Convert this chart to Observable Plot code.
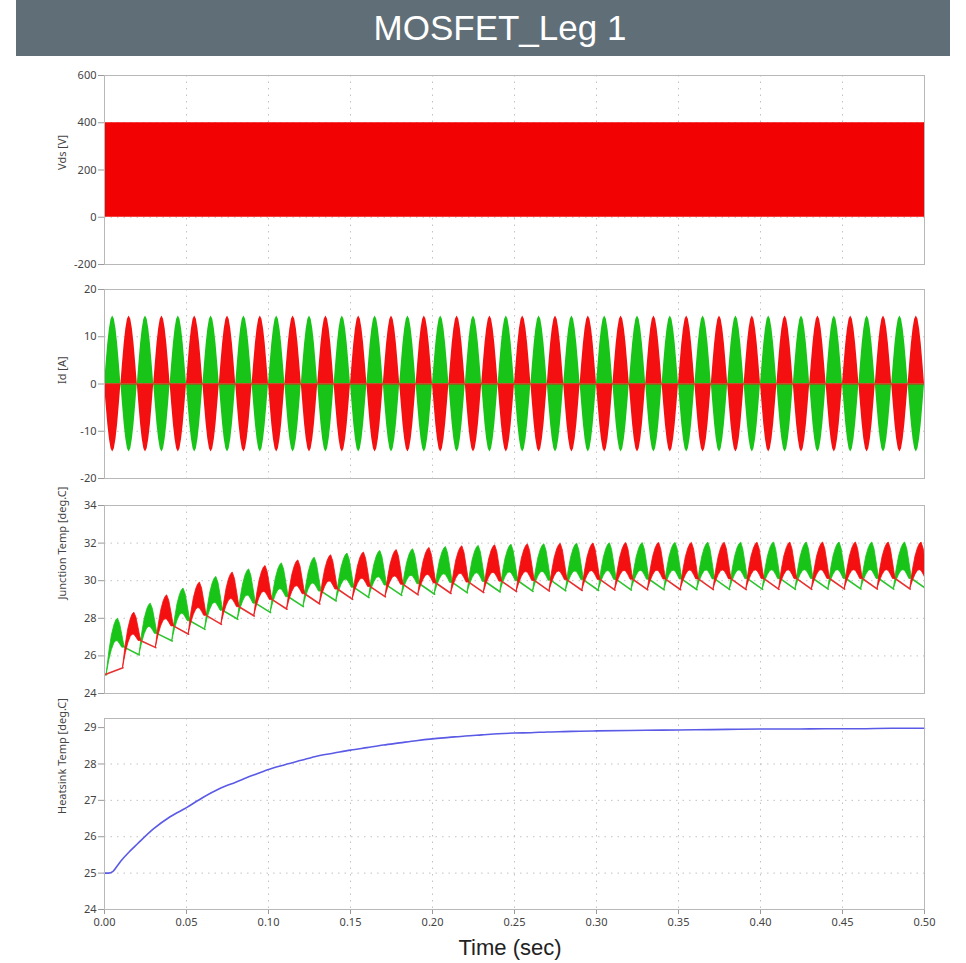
<!DOCTYPE html>
<html><head><meta charset="utf-8">
<script src="https://cdn.jsdelivr.net/npm/d3@7"></script>
<script src="https://cdn.jsdelivr.net/npm/@observablehq/plot@0.6"></script>
<style>
body{margin:0;background:#fff;width:966px;height:963px;position:relative;overflow:hidden;font-family:'Noto Sans',sans-serif}
#title{position:absolute;left:16px;top:0;width:934px;height:56px;background:#5f6e77;}
#title span{position:absolute;left:0;top:10px;width:968px;text-align:center;color:#fff;font-size:35px;line-height:35px;font-family:'Liberation Sans',Arial,sans-serif;}
.panel{position:absolute;left:0;}
.panel svg text{fill:#444}
#xlabel{position:absolute;top:937px;left:0;width:1020px;text-align:center;font-size:22px;line-height:22px;font-family:'Liberation Sans',Arial,sans-serif;color:#222}
</style></head>
<body>
<div id="title"><span>MOSFET_Leg 1</span></div>
<div id="p1" class="panel"></div>
<div id="p2" class="panel"></div>
<div id="p3" class="panel"></div>
<div id="p4" class="panel"></div>
<div id="xlabel">Time (sec)</div>
<script>
// ---------- data ----------
const timeTicks = [0, 0.05, 0.10, 0.15, 0.20, 0.25, 0.30, 0.35, 0.40, 0.45, 0.50];
const vdsTicks = [-200, 0, 200, 400, 600];
const idTicks = [-20, -10, 0, 10, 20];
const tjTicks = [24, 26, 28, 30, 32, 34];
const hsTicks = [24, 25, 26, 27, 28, 29];
const yLabels = ["Vds [V]", "Id [A]", "Junction Temp [deg.C]", "Heatsink Temp [deg.C]"];

// Vds: switching between 0 and 400 V over the whole run (drawn as a dense band)
const vdsTime = [0, 0.5];
const vdsLevels = [0, 400];

// Id: 50 half-cycles of 0.01 s, peak amplitude of each half-cycle envelope
const halfCycle = 0.01;
const idPeak = [14.4,14.4,14.4,14.4,14.4,14.4,14.4,14.4,14.4,14.4,
                14.4,14.4,14.4,14.4,14.4,14.4,14.4,14.4,14.4,14.4,
                14.4,14.4,14.4,14.4,14.4,14.4,14.4,14.4,14.4,14.4,
                14.4,14.4,14.4,14.4,14.4,14.4,14.4,14.4,14.4,14.4,
                14.4,14.4,14.4,14.4,14.4,14.4,14.4,14.4,14.4,14.4];
// envelope shape across one half-cycle (read from the lobes)
const idProfile = [0, 0.31, 0.59, 0.81, 0.95, 1, 0.95, 0.81, 0.59, 0.31, 0];

// Junction temperature, per half-cycle k (even = green device, odd = red device)
const tjInitial = 25.0;
const tjStart = [25.00,25.37,26.05,26.44,26.79,27.15,27.41,27.68,27.95,28.12,
                 28.30,28.48,28.62,28.76,28.92,29.01,29.10,29.14,29.22,29.25,
                 29.28,29.32,29.35,29.37,29.40,29.42,29.43,29.45,29.46,29.48,
                 29.48,29.50,29.50,29.51,29.51,29.52,29.52,29.53,29.53,29.53,
                 29.54,29.54,29.54,29.54,29.55,29.55,29.55,29.55,29.55,29.55];
const tjPeak = [27.98,28.30,28.78,29.22,29.58,29.90,30.20,30.43,30.60,30.78,
                30.92,31.08,31.22,31.35,31.44,31.50,31.58,31.63,31.67,31.74,
                31.79,31.83,31.85,31.88,31.91,31.93,31.94,31.96,31.97,31.98,
                31.99,32.00,32.00,32.01,32.01,32.01,32.02,32.02,32.02,32.02,
                32.03,32.03,32.03,32.03,32.03,32.03,32.03,32.03,32.03,32.03];
const tjEnd = [26.44,26.79,27.17,27.57,27.84,28.13,28.40,28.59,28.78,28.98,
               29.12,29.28,29.42,29.53,29.62,29.66,29.74,29.78,29.81,29.85,
               29.88,29.90,29.93,29.95,29.97,29.99,30.00,30.02,30.02,30.04,
               30.04,30.05,30.05,30.06,30.06,30.07,30.07,30.07,30.08,30.08,
               30.08,30.08,30.09,30.09,30.09,30.09,30.09,30.09,30.09,30.09];
// shape of one conduction lobe (time offsets within the half-cycle and fractions)
const lobeRel = [0.0013,0.003,0.0045,0.006,0.0072,0.0082,0.0095,0.0108,0.0118,0.0125];
const riseFrac = [0, 0.42, 0.70, 0.88, 0.97, 1];
const fallFrac = [0.82, 0.45, 0.15, 0];
const rippleFrac = [0, 0.30, 0.50, 0.62, 0.72, 0.78, 0.70, 0.45, 0.15, 0];

// Heatsink temperature
const hsTime = [0,0.0025,0.005,0.0075,0.01,0.015,0.02,0.03,0.04,0.05,0.06,0.07,0.08,0.09,0.10,0.11,0.12,0.13,0.14,0.15,
                0.16,0.17,0.18,0.19,0.20,0.21,0.22,0.23,0.24,0.25,0.26,0.27,0.28,0.29,0.30,
                0.32,0.34,0.36,0.38,0.40,0.42,0.44,0.46,0.48,0.50];
const hsTemp = [25.00,25.00,25.04,25.18,25.33,25.58,25.80,26.22,26.55,26.80,27.08,27.32,27.50,27.68,27.85,27.98,28.10,28.22,28.30,28.38,
                28.45,28.52,28.58,28.64,28.69,28.73,28.77,28.80,28.83,28.85,28.86,28.88,28.89,28.90,28.91,
                28.92,28.93,28.94,28.95,28.96,28.96,28.97,28.97,28.98,28.98];

// ---------- colors ----------
const RED = "#f41010", GREEN = "#18c418", BLUE = "#5a5ae6";
const gridStyle = {stroke: "#c2c2c2", strokeDasharray: "1.5,5", strokeWidth: 1};

// ---------- derived tables ----------
const idGreen = [], idRed = [];
idPeak.forEach((p, k) => {
  const s = k % 2 === 0 ? 1 : -1;
  idProfile.forEach((f, i) => {
    const t = (k + i / (idProfile.length - 1)) * halfCycle;
    idGreen.push({t, v: s * p * f});
    idRed.push({t, v: -s * p * f});
  });
});

const lobes = {g: [], r: []}, thin = {g: [], r: []};
tjStart.forEach((Ts, k) => {
  const Tp = tjPeak[k], Te = tjEnd[k], t0 = k * halfCycle;
  const key = k % 2 === 0 ? "g" : "r";
  lobeRel.forEach((rt, i) => {
    const hi = i < riseFrac.length ? Ts + (Tp - Ts) * riseFrac[i] : Te + (Tp - Te) * fallFrac[i - riseFrac.length];
    const lo = Math.max(Math.min(Ts, Te), hi - (Tp - Te) * rippleFrac[i]);
    lobes[key].push({k, t: t0 + rt, hi, lo});
  });
  const nextTs = k + 2 < tjStart.length ? tjStart[k + 2] : tjStart[k];
  thin[key].push({k, t: t0 + lobeRel[lobeRel.length - 1], v: Te});
  thin[key].push({k, t: t0 + 2 * halfCycle + lobeRel[0], v: nextTs});
});
thin.g.push({k: -2, t: 0, v: tjInitial}, {k: -2, t: lobeRel[0], v: tjStart[0]});
thin.r.push({k: -1, t: 0, v: tjInitial}, {k: -1, t: halfCycle + lobeRel[0], v: tjStart[1]});

const hsData = hsTime.map((t, i) => ({t, v: hsTemp[i]}));
const vdsData = [{t0: vdsTime[0], t1: vdsTime[1], lo: vdsLevels[0], hi: vdsLevels[1]}];

// ---------- panels ----------
function panel(id, frameTop, frameH, yDomain, yTicks, label, showX, dataMarks) {
  const mt = 8, mb = showX ? 32 : 8;
  const el = document.getElementById(id);
  el.style.top = (frameTop - mt) + "px";
  const chart = Plot.plot({
    width: 966, height: frameH + mt + mb,
    marginLeft: 104, marginRight: 42, marginTop: mt, marginBottom: mb,
    x: {domain: [0, 0.5], ticks: timeTicks, tickFormat: d3.format(".2f"), tickSize: 5, tickPadding: 4, label: null, axis: showX ? "bottom" : null},
    y: {domain: yDomain, ticks: yTicks, tickFormat: d => String(d), tickSize: 6, tickPadding: 2, label: null},
    style: {fontFamily: "'Noto Sans', sans-serif", fontSize: "11px", color: "#9a9a9a", background: "transparent", overflow: "visible"},
    marks: [
      Plot.ruleX(timeTicks.slice(1, -1), gridStyle),
      Plot.ruleY(yTicks.slice(1, -1), gridStyle),
      ...dataMarks,
      Plot.frame({stroke: "#b8b8b8"}),
      Plot.text([label], {frameAnchor: "left", dx: -42, rotate: -90, text: d => d, fill: "#444", fontSize: 11})
    ]
  });
  el.appendChild(chart);
}

panel("p1", 75, 189, [-200, 600], vdsTicks, yLabels[0], false, [
  Plot.rectY(vdsData, {x1: "t0", x2: "t1", y1: "lo", y2: "hi", fill: "#f20202"})
]);

panel("p2", 289, 189, [-20, 20], idTicks, yLabels[1], false, [
  Plot.areaY(idGreen, {x: "t", y1: 0, y2: "v", fill: GREEN}),
  Plot.areaY(idRed, {x: "t", y1: 0, y2: "v", fill: RED}),
  Plot.ruleY([0], {stroke: "#d42a10", strokeWidth: 1.2})
]);

panel("p3", 505, 188, [24, 34], tjTicks, yLabels[2], false, [
  Plot.areaY(lobes.g, {x: "t", y1: "lo", y2: "hi", z: "k", fill: GREEN, stroke: GREEN, strokeWidth: 0.8, clip: true}),
  Plot.line(thin.g, {x: "t", y: "v", z: "k", stroke: "#2fc42f", strokeWidth: 1.6, clip: true}),
  Plot.areaY(lobes.r, {x: "t", y1: "lo", y2: "hi", z: "k", fill: RED, stroke: RED, strokeWidth: 0.8, clip: true}),
  Plot.line(thin.r, {x: "t", y: "v", z: "k", stroke: "#e83030", strokeWidth: 1.6, clip: true})
]);

panel("p4", 718, 191, [24, 29.25], hsTicks, yLabels[3], true, [
  Plot.line(hsData, {x: "t", y: "v", stroke: BLUE, strokeWidth: 1.6, curve: "monotone-x"})
]);
</script>
</body></html>
